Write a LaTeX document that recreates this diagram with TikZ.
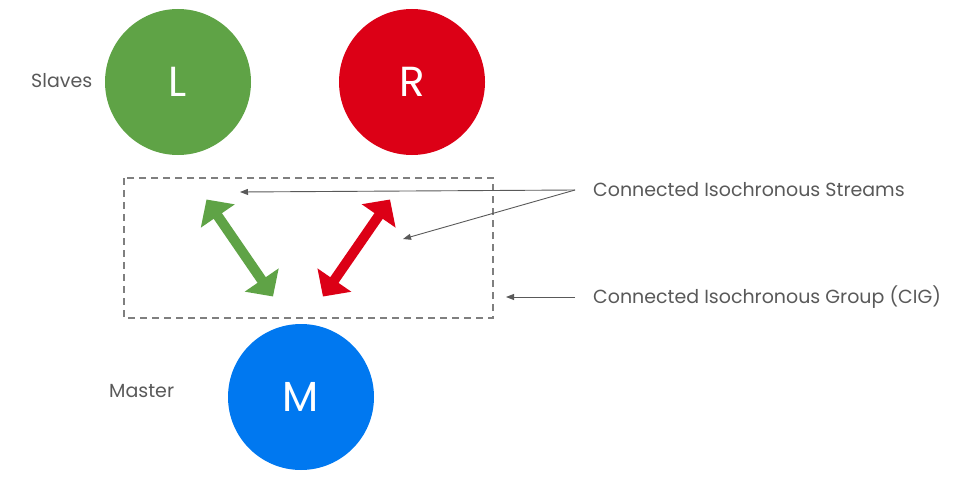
\documentclass[tikz,border=0pt]{standalone}
\usepackage{fontspec}
\setmainfont{Poppins}
\usetikzlibrary{arrows.meta}
\definecolor{lgreen}{HTML}{5FA346}
\definecolor{rred}{HTML}{DC0016}
\definecolor{mblue}{HTML}{0078F0}
\definecolor{txtgray}{HTML}{595959}
\definecolor{boxgray}{HTML}{7F7F7F}
\tikzset{
  dev/.style={circle, minimum size=146pt, inner sep=0pt, text=white, font=\fontsize{42}{42}\selectfont},
  lbl/.style={inner sep=0pt, text=txtgray, font=\fontsize{19}{20}\selectfont},
  cis/.style={line width=10pt, {Triangle[length=20pt,width=40pt]}-{Triangle[length=20pt,width=40pt]}},
  ptr/.style={draw=txtgray, line width=0.9pt, -{Triangle[length=8pt,width=6pt]}}
}
\begin{document}
\begin{tikzpicture}[x=1pt,y=-1pt]
        \useasboundingbox (0,0) rectangle (960,484);
        % devices
        \node[dev, fill=lgreen] (L) at (178,82) {L};
        \node[dev, fill=rred] (R) at (412,82) {R};
        \node[dev, fill=mblue] (M) at (301,397) {M};
        \node[lbl, anchor=base west] (slaves) at (31,88) {Slaves};
        \node[lbl, anchor=base west] (master) at (109,397) {Master};

        % group
        \draw[boxgray, line width=1.2pt, dash pattern=on 7pt off 5pt] (124,178) rectangle (493,318);

        % streams
        \coordinate (ltop) at (206.5,199.5);
        \coordinate (lbot) at (273,296.5);
        \coordinate (rtop) at (390,199.5);
        \coordinate (rbot) at (323,296.5);
        \draw[cis, lgreen] (ltop) -- (lbot);
        \draw[cis, rred] (rtop) -- (rbot);

        % labels
        \node[lbl, anchor=west] (cis) at (593,190) {Connected Isochronous Streams};
        \node[lbl, anchor=west] (cig) at (593,297) {Connected Isochronous Group (CIG)};
        \coordinate (cisl) at (240,192);
        \coordinate (cisr) at (403,239);
        \coordinate (cigbox) at (506,297);
        \draw[ptr] ([xshift=-18pt]cis.west) -- (cisl);
        \draw[ptr] ([xshift=-18pt]cis.west) -- (cisr);
        \draw[ptr] ([xshift=-18pt]cig.west) -- (cigbox);
\end{tikzpicture}
\end{document}
